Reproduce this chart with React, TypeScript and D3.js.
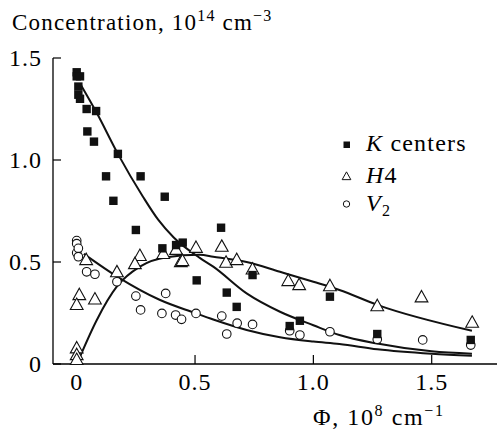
import React from 'react';
import * as d3 from 'd3';

// measured points (fluence, 1e8 cm^-1 ; concentration, 1e14 cm^-3)
const kX = [0, 0, 0.014, 0.007, 0.007, 0.014, 0.042, 0.082, 0.045, 0.073, 0.174, 0.124, 0.27, 0.155, 0.372, 0.25, 0.362, 0.42, 0.448, 0.507, 0.61, 0.634, 0.676, 0.743, 0.943, 0.9, 1.07, 1.27, 1.665];
const kY = [1.43, 1.41, 1.41, 1.36, 1.32, 1.3, 1.25, 1.24, 1.14, 1.09, 1.03, 0.92, 0.92, 0.8, 0.82, 0.657, 0.567, 0.583, 0.595, 0.41, 0.668, 0.35, 0.28, 0.436, 0.212, 0.186, 0.33, 0.147, 0.118];

const h4X = [0, 0, 0, 0.011, 0, 0.077, 0.04, 0.17, 0.267, 0.246, 0.366, 0.42, 0.44, 0.504, 0.447, 0.613, 0.631, 0.676, 0.743, 0.894, 0.94, 1.07, 1.27, 1.457, 1.671];
const h4Y = [0.077, 0.044, 0.02, 0.338, 0.29, 0.317, 0.51, 0.45, 0.53, 0.49, 0.54, 0.56, 0.5, 0.57, 0.505, 0.575, 0.497, 0.51, 0.464, 0.407, 0.387, 0.382, 0.284, 0.327, 0.203];

const v2X = [0, 0, 0, 0.007, 0.007, 0.042, 0.077, 0.17, 0.25, 0.27, 0.376, 0.36, 0.418, 0.443, 0.504, 0.613, 0.634, 0.678, 0.743, 0.9, 0.943, 1.07, 1.27, 1.462, 1.665];
const v2Y = [0.605, 0.59, 0.545, 0.567, 0.526, 0.452, 0.44, 0.403, 0.333, 0.265, 0.346, 0.248, 0.24, 0.219, 0.248, 0.235, 0.147, 0.2, 0.194, 0.163, 0.142, 0.158, 0.121, 0.118, 0.093];

// fitted curves
const kFitX = [0.014, 0.085, 0.174, 0.28, 0.345, 0.41, 0.52, 0.577, 0.718, 0.859, 1.0, 1.11, 1.27, 1.5, 1.67];
const kFitY = [1.375, 1.23, 1.03, 0.82, 0.706, 0.62, 0.52, 0.477, 0.346, 0.256, 0.19, 0.142, 0.1, 0.062, 0.05];
const h4FitX = [0.014, 0.085, 0.17, 0.267, 0.38, 0.52, 0.577, 0.718, 0.859, 1.0, 1.11, 1.27, 1.67];
const h4FitY = [0.036, 0.216, 0.38, 0.477, 0.523, 0.535, 0.526, 0.5, 0.452, 0.403, 0.363, 0.29, 0.163];
const v2FitX = [0.03, 0.176, 0.35, 0.5, 0.577, 0.718, 0.859, 1.0, 1.11, 1.27, 1.5, 1.67];
const v2FitY = [0.54, 0.425, 0.315, 0.25, 0.218, 0.167, 0.131, 0.11, 0.098, 0.072, 0.05, 0.04];

const xTicks = [0, 0.5, 1.0, 1.5];
const xTickLabels = ['0', '0.5', '1.0', '1.5'];
const yTicks = [0, 0.5, 1.0, 1.5];
const yTickLabels = ['0', '0.5', '1.0', '1.5'];

const W = 497;
const H = 433;
const FONT = "'Liberation Serif', 'DejaVu Serif', 'Times New Roman', Times, serif";

const App = () => {
  const x = d3.scaleLinear().domain([0, 1.5]).range([76.7, 431.7]);
  const y = d3.scaleLinear().domain([0, 1.5]).range([364, 58]);
  const x0 = 53;

  const line = d3
    .line<[number, number]>()
    .x(d => x(d[0]))
    .y(d => y(d[1]))
    .curve(d3.curveMonotoneX);

  const zip = (a: number[], b: number[]) => a.map((v, i) => [v, b[i]] as [number, number]);

  const tri = (cx: number, cy: number, s: number) =>
    `M${cx},${cy - s * 0.62}L${cx + s * 0.58},${cy + s * 0.42}L${cx - s * 0.58},${cy + s * 0.42}Z`;

  const txt = { fontFamily: FONT };
  const wide = { fontFamily: FONT, letterSpacing: '1.2px' };

  return (
    <svg width={W} height={H} style={{ position: 'absolute', left: 0, top: 0, background: '#fff' }}>
      {/* axes */}
      <line x1={x0} x2={W} y1={y(0)} y2={y(0)} stroke="#000" strokeWidth={1.3} />
      <line x1={x0} x2={x0} y1={y(0)} y2={y(1.5)} stroke="#000" strokeWidth={1.3} />
      {xTicks.map((t, i) => (
        <g key={'xt' + i}>
          <line x1={x(t)} x2={x(t)} y1={y(0)} y2={y(0) - 9} stroke="#000" strokeWidth={1.2} />
          <text x={x(t)} y={390} fontSize={24} textAnchor="middle" style={{ ...txt, letterSpacing: '1px' }}>{xTickLabels[i]}</text>
        </g>
      ))}
      {yTicks.map((t, i) => (
        <g key={'yt' + i}>
          <line x1={x0} x2={x0 + 8} y1={y(t)} y2={y(t)} stroke="#000" strokeWidth={1.2} />
          <text x={42} y={y(t) + 8} fontSize={24} textAnchor="end" style={{ ...txt, letterSpacing: '1px' }}>{yTickLabels[i]}</text>
        </g>
      ))}

      {/* titles */}
      <text x={12} y={30} fontSize={23} style={wide}>
        Concentration, 10<tspan fontSize={16} dy={-9}>14</tspan>
        <tspan dy={9}> cm</tspan>
        <tspan fontSize={16} dy={-9}>−3</tspan>
      </text>
      <text x={313} y={425} fontSize={24} style={{ ...txt, letterSpacing: '1.6px' }}>
        Φ, 10<tspan fontSize={16} dy={-9}>8</tspan>
        <tspan dy={9}> cm</tspan>
        <tspan fontSize={16} dy={-9}>−1</tspan>
      </text>

      {/* fitted curves */}
      <path d={line(zip(kFitX, kFitY)) || ''} fill="none" stroke="#111" strokeWidth={2} />
      <path d={line(zip(h4FitX, h4FitY)) || ''} fill="none" stroke="#111" strokeWidth={2} />
      <path d={line(zip(v2FitX, v2FitY)) || ''} fill="none" stroke="#111" strokeWidth={2} />

      {/* markers */}
      {h4X.map((v, i) => (
        <path key={'h' + i} d={tri(x(v), y(h4Y[i]), 11)} fill="#fff" stroke="#111" strokeWidth={1.1} />
      ))}
      {v2X.map((v, i) => (
        <circle key={'v' + i} cx={x(v)} cy={y(v2Y[i])} r={4.3} fill="#fff" stroke="#111" strokeWidth={1.1} />
      ))}
      {kX.map((v, i) => (
        <rect key={'k' + i} x={x(v) - 4.2} y={y(kY[i]) - 4.2} width={8.4} height={8.4} fill="#111" />
      ))}

      {/* legend */}
      <rect x={343.5} y={141.5} width={6.5} height={6.5} fill="#111" />
      <text x={366} y={151} fontSize={24} style={wide}><tspan fontStyle="italic">K</tspan> centers</text>
      <path d={tri(346.5, 176.5, 7.5)} fill="#fff" stroke="#111" strokeWidth={1} />
      <text x={366} y={183} fontSize={24} style={wide}><tspan fontStyle="italic">H</tspan>4</text>
      <circle cx={346.5} cy={204} r={3.2} fill="#fff" stroke="#111" strokeWidth={1} />
      <text x={366} y={211} fontSize={24} style={wide}><tspan fontStyle="italic">V</tspan><tspan fontSize={16} dy={5}>2</tspan></text>
    </svg>
  );
};

export default App;
